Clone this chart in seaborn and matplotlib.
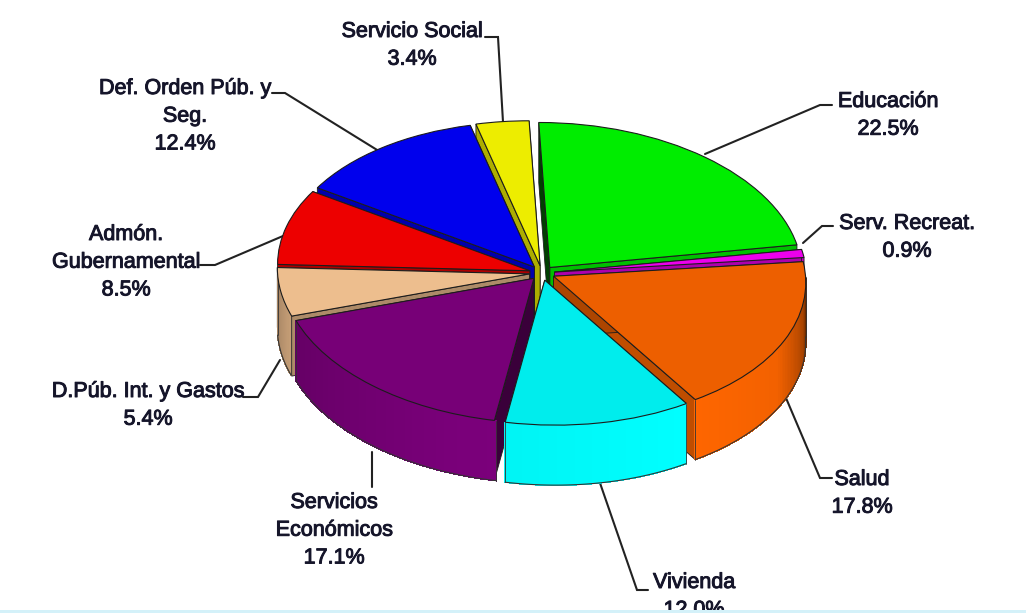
import numpy as np
import matplotlib
matplotlib.use("Agg")
import matplotlib.pyplot as plt
import matplotlib.patheffects as pe
from matplotlib.colors import to_rgb
from matplotlib.transforms import Affine2D
import seaborn as sns

# --- Data ---
CATEGORIES = ['Educación', 'Serv. Recreat.', 'Salud', 'Vivienda', 'Servicios\nEconómicos',
              'D.Púb. Int. y Gastos', 'Admón.\nGubernamental', 'Def. Orden Púb. y\nSeg.', 'Servicio Social']
SHARES = [22.5, 0.9, 17.8, 12.0, 17.1, 5.4, 8.5, 12.4, 3.4]

# --- Style ---
COLORS = ['#00ff00', '#ff00ff', '#ff6600', '#00ffff', '#800080', '#ffcc99', '#ff0000', '#0000ff', '#ffff00']
LABEL_XY = [(888, 100), (907, 222), (862, 478), (694, 581), (334, 501), (148, 390), (126, 233), (185, 87), (412, 30)]
LEADERS = [
    [(832, 105), (820, 105), (705, 154)],
    [(833, 226), (822, 226), (803, 243)],
    [(786, 398), (820, 478), (832, 478)],
    [(600, 483), (637, 590), (648, 590)],
    [(372, 452), (372, 487)],
    [(243, 397), (258, 397), (280, 360)],
    [(200, 265), (215, 265), (283, 236)],
    [(272, 93), (285, 93), (382, 153)],
    [(485, 37), (498, 37), (503, 122)],
]
FACE_DARK = {0: 0.25, 4: 0.45}
DEPTH = 60
unit_to_px = Affine2D.from_values(252, 0, -11, -145, 542, 273)


def shade(theta):
    return np.interp(np.mod(theta, 360), [180, 200, 250, 300, 330, 350, 360],
                     [0.62, 0.8, 0.95, 1.0, 0.95, 0.65, 0.4])


sns.set_theme(style="white")
plt.rcParams['font.family'] = ['Liberation Sans', 'DejaVu Sans']

fig = plt.figure(figsize=(10.26, 6.13), dpi=100)
ax = fig.add_axes([0, 0, 1, 1])
wedges, _ = ax.pie(SHARES, startangle=90, counterclock=False, explode=[0.05] * len(SHARES), colors=COLORS)
ax.set_aspect('auto')
ax.set_xlim(0, 1026)
ax.set_ylim(613, 0)
ax.axis('off')

mids = [np.radians((w.theta1 + w.theta2) / 2) for w in wedges]
order = np.argsort([-np.sin(m) for m in mids])

for rank, i in enumerate(order):
    w, base = wedges[i], np.array(to_rgb(COLORS[i]))
    z = 2 + rank
    cen = np.array(w.center)
    w.set_transform(unit_to_px + ax.transData)
    w.set_facecolor(base * 0.93)
    w.set_edgecolor('#1c1c1c')
    w.set_linewidth(0.8)
    w.set_zorder(z + 0.5)

    # cut faces
    apex = unit_to_px.transform(cen)
    for th, dark in ((w.theta1, 0.75), (w.theta2, FACE_DARK.get(i, 0.68))):
        rim = unit_to_px.transform(cen + w.r * np.array([np.cos(np.radians(th)), np.sin(np.radians(th))]))
        quad = np.array([apex, rim, rim + [0, DEPTH], apex + [0, DEPTH]])
        ax.fill(quad[:, 0], quad[:, 1], color=base * dark, ec='#1c1c1c', lw=0.6, zorder=z)

    # outer wall, only the part facing the viewer
    thetas = np.arange(w.theta1, w.theta2 + 0.5, 1.0)
    thetas = thetas[np.sin(np.radians(thetas)) <= 0.001]
    if len(thetas) > 1:
        rad = np.radians(thetas)
        arc = unit_to_px.transform(cen + w.r * np.column_stack([np.cos(rad), np.sin(rad)]))
        for k in range(len(arc) - 1):
            quad = np.array([arc[k], arc[k + 1], arc[k + 1] + [0, DEPTH], arc[k] + [0, DEPTH]])
            col = base * shade((thetas[k] + thetas[k + 1]) / 2)
            ax.fill(quad[:, 0], quad[:, 1], facecolor=col, edgecolor=col, lw=0.5, antialiased=False, zorder=z + 0.1)
        ax.plot(arc[:, 0], arc[:, 1] + DEPTH, color='#333333', lw=0.8, zorder=z + 0.2)
        for end in (arc[0], arc[-1]):
            ax.plot([end[0], end[0]], [end[1], end[1] + DEPTH], color='#333333', lw=0.6, zorder=z + 0.2)

for name, share, (x, y), leader in zip(CATEGORIES, SHARES, LABEL_XY, LEADERS):
    ax.text(x, y - 9, f"{name}\n{share:.1f}%", ha='center', va='top', fontsize=15.5, linespacing=1.42,
            color='#15152a', zorder=20, path_effects=[pe.withStroke(linewidth=0.7, foreground='#15152a')])
    pts = np.array(leader)
    ax.plot(pts[:, 0], pts[:, 1], color='#222222', lw=1.5, zorder=1.5, solid_joinstyle='miter')

# panel edge cutting the last label off
ax.axhspan(610, 613, color='#d4f1f9', lw=0, zorder=30)

fig.savefig("out.png", dpi=100)
